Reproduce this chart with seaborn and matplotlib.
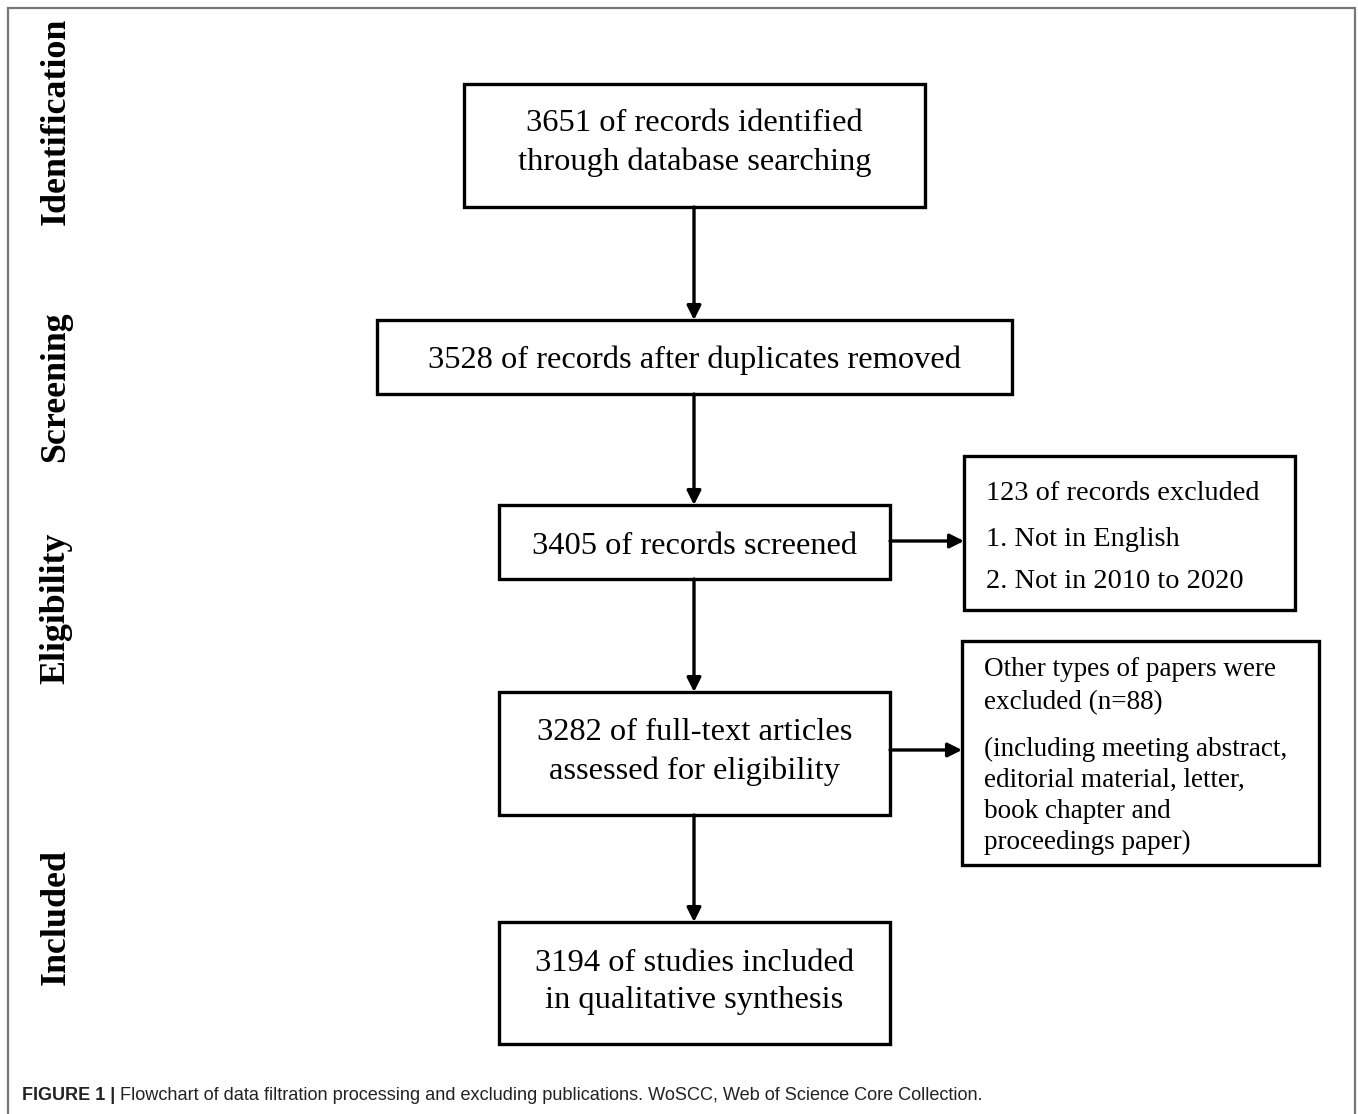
import matplotlib
matplotlib.use("Agg")
import matplotlib.pyplot as plt
import seaborn as sns
from matplotlib.patches import Rectangle

# ---- content of the flowchart ----
stage_labels = ["Identification", "Screening", "Eligibility", "Included"]
stage_centers = [121, 387, 608, 917]

main_texts = [
    "3651 of records identified\nthrough database searching",
    "3528 of records after duplicates removed",
    "3405 of records screened",
    "3282 of full-text articles\nassessed for eligibility",
    "3194 of studies included\nin qualitative synthesis",
]
# box geometry in pixels: left, top, right, bottom
main_boxes = [
    (464, 84, 925, 207),
    (377, 320, 1012, 394),
    (499, 505, 890, 579),
    (499, 692, 890, 815),
    (499, 922, 890, 1044),
]
# vertical centre of the text block in each main box
main_text_y = [143, 360, 546, 752, 982]

side_lines = [
    ["123 of records excluded", "1. Not in English", "2. Not in 2010 to 2020"],
    ["Other types of papers were", "excluded (n=88)", "(including meeting abstract,",
     "editorial material, letter,", "book chapter and", "proceedings paper)"],
]
side_line_y = [
    [493, 539, 581],
    [670, 703, 749, 780, 812, 842],
]
side_boxes = [
    (964, 456, 1295, 610),
    (962, 641, 1319, 865),
]
side_arrow_y = [541, 750]

caption_bold = "FIGURE 1 | "
caption_text = "Flowchart of data filtration processing and excluding publications. WoSCC, Web of Science Core Collection."

sns.set_theme(style="white")
plt.rcParams["font.family"] = ["Liberation Serif", "DejaVu Serif"]

W, H = 1358, 1114
fig = plt.figure(figsize=(W / 100, H / 100), dpi=100)
ax = fig.add_axes([0, 0, 1, 1])
ax.set_xlim(0, W)
ax.set_ylim(H, 0)
ax.axis("off")

# outer frame (left, top, right only)
ax.plot([8, 8, 1355, 1355], [H + 5, 8, 8, H + 5], color="#777777", lw=1.6, solid_joinstyle="miter")

# stage labels
for lab, cy in zip(stage_labels, stage_centers):
    ax.text(56, cy, lab, rotation=90, ha="center", va="center",
            fontsize=25.8, fontweight="bold", color="black")

# main boxes
for (l, t, r, b), txt, ty in zip(main_boxes, main_texts, main_text_y):
    ax.add_patch(Rectangle((l, t), r - l, b - t, fill=False, ec="black", lw=2.4))
    ax.text((l + r) / 2, ty, txt, ha="center", va="center",
            fontsize=23.4, linespacing=1.4, color="black")

# vertical arrows between main boxes
cx = 694
for i in range(len(main_boxes) - 1):
    y0 = main_boxes[i][3]
    y1 = main_boxes[i + 1][1]
    ax.annotate("", xy=(cx, y1), xytext=(cx, y0),
                arrowprops=dict(arrowstyle="-|>,head_length=0.7,head_width=0.35",
                                color="black", lw=2.4, shrinkA=0, shrinkB=0))

# side boxes with horizontal arrows
for (l, t, r, b), lines, ys, ay in zip(side_boxes, side_lines, side_line_y, side_arrow_y):
    ax.add_patch(Rectangle((l, t), r - l, b - t, fill=False, ec="black", lw=2.4))
    fs = 20.4 if len(lines) == 3 else 19.5
    for line, y in zip(lines, ys):
        ax.text(l + 22, y, line, ha="left", va="center", fontsize=fs, color="black")
    ax.annotate("", xy=(l, ay), xytext=(890, ay),
                arrowprops=dict(arrowstyle="-|>,head_length=0.7,head_width=0.35",
                                color="black", lw=2.4, shrinkA=0, shrinkB=0))

# caption
t1 = ax.text(22, 1096, caption_bold, ha="left", va="center", fontsize=13,
             fontweight="bold", family=["Liberation Sans", "DejaVu Sans"], color="#222222")
fig.canvas.draw()
bb = t1.get_window_extent(renderer=fig.canvas.get_renderer())
x_end = ax.transData.inverted().transform((bb.x1, bb.y0))[0]
ax.text(x_end, 1096, caption_text, ha="left", va="center", fontsize=13.05,
        family=["Liberation Sans", "DejaVu Sans"], color="#222222")

fig.savefig("out.png", dpi=100)
